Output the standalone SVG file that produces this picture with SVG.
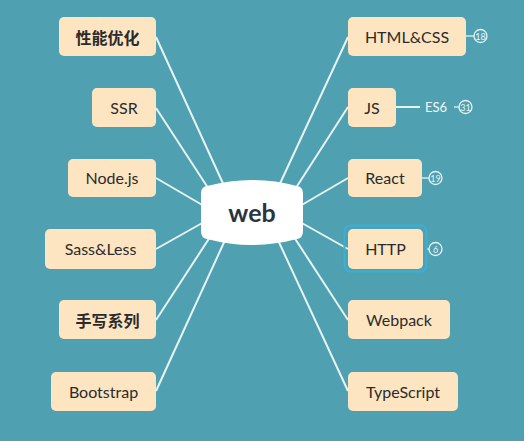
<svg xmlns="http://www.w3.org/2000/svg" width="524" height="441" viewBox="0 0 524 441">
<style>
.bg{fill:#4fa0b1}
.n{fill:#fee5c2}
.t{font-family:Lato,"Noto Sans","Noto Sans CJK SC",sans-serif;font-size:16px;fill:#2b2b2b;text-anchor:middle;dominant-baseline:central}
.cn{font-family:"Noto Sans CJK SC",sans-serif;font-size:16px;font-weight:700;fill:#2b2b2b;text-anchor:middle;dominant-baseline:central}
.c{stroke:#e8f3f4;stroke-width:2;fill:none}
.b{stroke:#e8f3f4;stroke-width:1.3;fill:none}
.bt{font-family:Lato,sans-serif;font-size:9px;fill:#e8f3f4;text-anchor:middle;dominant-baseline:central}
.lt{font-family:Lato,sans-serif;font-size:13px;fill:#f4fafa;text-anchor:middle;dominant-baseline:central}
</style>
<rect class="bg" x="0" y="0" width="524" height="441"/>
<g id="connectors">
<line class="c" x1="156" y1="37" x2="226" y2="190"/>
<line class="c" x1="156" y1="108" x2="212" y2="194"/>
<line class="c" x1="156" y1="178" x2="204" y2="206"/>
<line class="c" x1="156" y1="249" x2="204" y2="222"/>
<line class="c" x1="156" y1="320" x2="212" y2="234"/>
<line class="c" x1="156" y1="391" x2="226" y2="238"/>
<line class="c" x1="348" y1="37" x2="277" y2="190"/>
<line class="c" x1="348" y1="107" x2="292" y2="194"/>
<line class="c" x1="348" y1="178" x2="300" y2="206"/>
<line class="c" x1="348" y1="249" x2="300" y2="222"/>
<line class="c" x1="348" y1="320" x2="292" y2="234"/>
<line class="c" x1="348" y1="391" x2="277" y2="238"/>
<line class="c" x1="396" y1="107" x2="420" y2="107"/>
<line class="b" x1="466" y1="36" x2="474" y2="36"/>
<line class="b" x1="454" y1="107" x2="459" y2="107"/>
<line class="b" x1="422" y1="178" x2="429" y2="178"/>
<line class="b" x1="427" y1="249" x2="429" y2="249"/>
</g>
<g id="web">
<path d="M207,186 Q252,174 297,186 Q303,187 303,193 L303,231 Q303,238 297,239 Q252,251 207,239 Q201,238 201,231 L201,193 Q201,187 207,186 Z" fill="#ffffff"/>
<text x="252" y="212" font-family="Lato,sans-serif" font-size="25" font-weight="700" fill="#2c3440" text-anchor="middle" dominant-baseline="central">web</text>
</g>
<g id="perf"><rect class="n" x="59" y="17" width="97" height="39" rx="5"/><text class="cn" x="107.5" y="36.5">性能优化</text></g>
<g id="ssr"><rect class="n" x="92" y="88" width="64" height="39" rx="5"/><text class="t" x="124" y="107">SSR</text></g>
<g id="node"><rect class="n" x="68" y="159" width="88" height="38" rx="5"/><text class="t" x="112" y="177.5">Node.js</text></g>
<g id="sass"><rect class="n" x="45" y="229" width="111" height="40" rx="5"/><text class="t" x="100.5" y="248.5">Sass&amp;Less</text></g>
<g id="handwrite"><rect class="n" x="59" y="300" width="97" height="39" rx="5"/><text class="cn" x="107.5" y="319.5">手写系列</text></g>
<g id="bootstrap"><rect class="n" x="51" y="372" width="105" height="39" rx="5"/><text class="t" x="103.5" y="391">Bootstrap</text></g>
<g id="html"><rect class="n" x="348" y="17" width="118" height="39" rx="5"/><text class="t" x="407" y="36">HTML&amp;CSS</text>
<circle class="b" cx="480.5" cy="36" r="6.5"/><text class="bt" x="480.5" y="36.5">18</text></g>
<g id="js"><rect class="n" x="348" y="88" width="48" height="39" rx="5"/><text class="t" x="372" y="107">JS</text></g>
<g id="es6"><text class="lt" x="436" y="107">ES6</text>
<circle class="b" cx="465.5" cy="107" r="6.5"/><text class="bt" x="465.5" y="107.5">31</text></g>
<g id="react"><rect class="n" x="348" y="159" width="74" height="38" rx="5"/><text class="t" x="385" y="177.5">React</text>
<circle class="b" cx="435.5" cy="178" r="6.5"/><text class="bt" x="435.5" y="178.5">19</text></g>
<g id="http"><rect x="344.5" y="225.5" width="82" height="46" rx="6" fill="none" stroke="#3cafd6" stroke-width="2"/><rect class="n" x="348" y="229" width="75" height="40" rx="5"/><text class="t" x="385.5" y="248.5">HTTP</text>
<circle class="b" cx="435.5" cy="249" r="6.5"/><text class="bt" x="435.5" y="249.5">6</text></g>
<g id="webpack"><rect class="n" x="348" y="300" width="102" height="39" rx="5"/><text class="t" x="399" y="319">Webpack</text></g>
<g id="ts"><rect class="n" x="348" y="372" width="110" height="39" rx="5"/><text class="t" x="403" y="391">TypeScript</text></g>
</svg>
